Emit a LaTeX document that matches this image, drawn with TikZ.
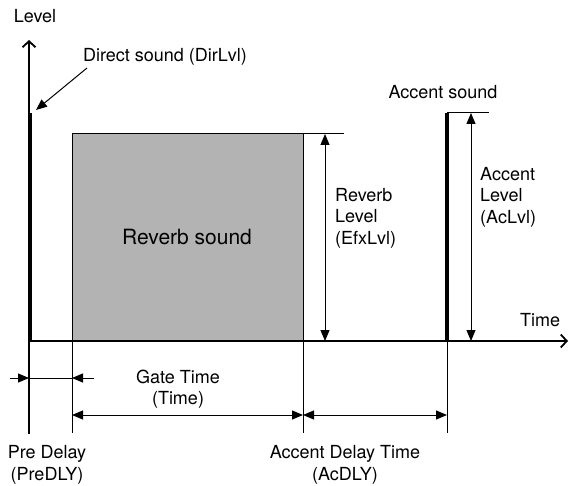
\documentclass[tikz,border=0pt]{standalone}
\usepackage{fontspec}
\setmainfont{TeX Gyre Heros}
\usetikzlibrary{arrows.meta}
\definecolor{reverbgray}{HTML}{B3B3B3}

\tikzset{
  lbl/.style={font=\fontsize{18}{21.5}\selectfont, inner sep=0pt},
  big/.style={font=\fontsize{21}{25}\selectfont, inner sep=0pt},
  tip/.style={-{Triangle[length=11pt,width=9pt]}},
  dim/.style={line width=1pt, {Triangle[length=11pt,width=9pt]}-{Triangle[length=11pt,width=9pt]}},
  axis/.style={line width=1.8pt, -{Straight Barb[length=6pt,width=13pt]}},
  guide/.style={line width=1pt},
  pulse/.style={line width=4pt},
}

\begin{document}
\begin{tikzpicture}[x=1pt, y=-1pt]
      \useasboundingbox (0,0) rectangle (569,486);
      % points
      \coordinate (O) at (29,341);
      \coordinate (ytop) at (29,40);
      \coordinate (ybot) at (29,434);
      \coordinate (xend) at (568,341);
      \coordinate (dtop) at (30,113);
      \coordinate (dbot) at (30,341);
      \coordinate (rtl) at (72,134);
      \coordinate (rbr) at (303,341);
      \coordinate (rtr) at (303,134);
      \coordinate (rcap) at (344,134);
      \coordinate (atop) at (447,113);
      \coordinate (abot) at (447,341);
      \coordinate (acap) at (489,113);
      % reverb block
      \draw[guide, fill=reverbgray] (rtl) rectangle (rbr);
      \node[big] (rev) at (187,237) {Reverb sound};
      % axes
      \draw[axis] (O) -- (xend);
      \draw[axis] (ybot) -- (ytop);
      \node[lbl] (level) at (35,16) {Level};
      \node[lbl] (time) at (540,320) {Time};
      % pulses
      \draw[pulse] (dtop) -- (dbot);
      \draw[pulse] (atop) -- (abot);
      \draw[guide] (rtr) -- (rcap);
      \draw[guide] (atop) -- (acap);
      % labels on top
      \node[lbl] (direct) at (165,57) {Direct sound (DirLvl)};
      \coordinate (dfrom) at (87,68);
      \coordinate (dto) at (36,110);
      \draw[guide, tip] (dfrom) -- (dto);
      \node[lbl] (accent) at (443,92) {Accent sound};
      % levels
      \coordinate (rl1) at (325,134);
      \coordinate (rl2) at (325,341);
      \draw[dim] (rl1) -- (rl2);
      \node[lbl, anchor=west, align=left] (revlvl) at (335,218) {Reverb\\Level\\(EfxLvl)};
      \coordinate (al1) at (471,113);
      \coordinate (al2) at (471,341);
      \draw[dim] (al1) -- (al2);
      \node[lbl, anchor=west, align=left] (aclvl) at (480,197) {Accent\\Level\\(AcLvl)};
      % ticks below the time axis
      \coordinate (t1) at (72,433);
      \coordinate (t2) at (303,433);
      \coordinate (t3) at (447,433);
      \draw[guide] (rtl |- O) -- (t1);
      \draw[guide] (rbr) -- (t2);
      \draw[guide] (abot) -- (t3);
      % pre delay
      \coordinate (p0) at (10,378);
      \coordinate (p1) at (29,378);
      \coordinate (p2) at (72,378);
      \coordinate (p3) at (94,378);
      \draw[guide] (p1) -- (p2);
      \draw[guide, tip] (p0) -- (p1);
      \draw[guide, tip] (p3) -- (p2);
      \node[lbl, align=center] (pre) at (47,465) {Pre Delay\\(PreDLY)};
      % gate and accent delay
      \coordinate (g1) at (72,415);
      \coordinate (g2) at (303,415);
      \coordinate (g3) at (447,415);
      \draw[dim] (g1) -- (g2);
      \draw[dim] (g2) -- (g3);
      \node[lbl, align=center] (gate) at (178,389) {Gate Time\\(Time)};
      \node[lbl, align=center] (acdly) at (345,465) {Accent Delay Time\\(AcDLY)};
\end{tikzpicture}
\end{document}
